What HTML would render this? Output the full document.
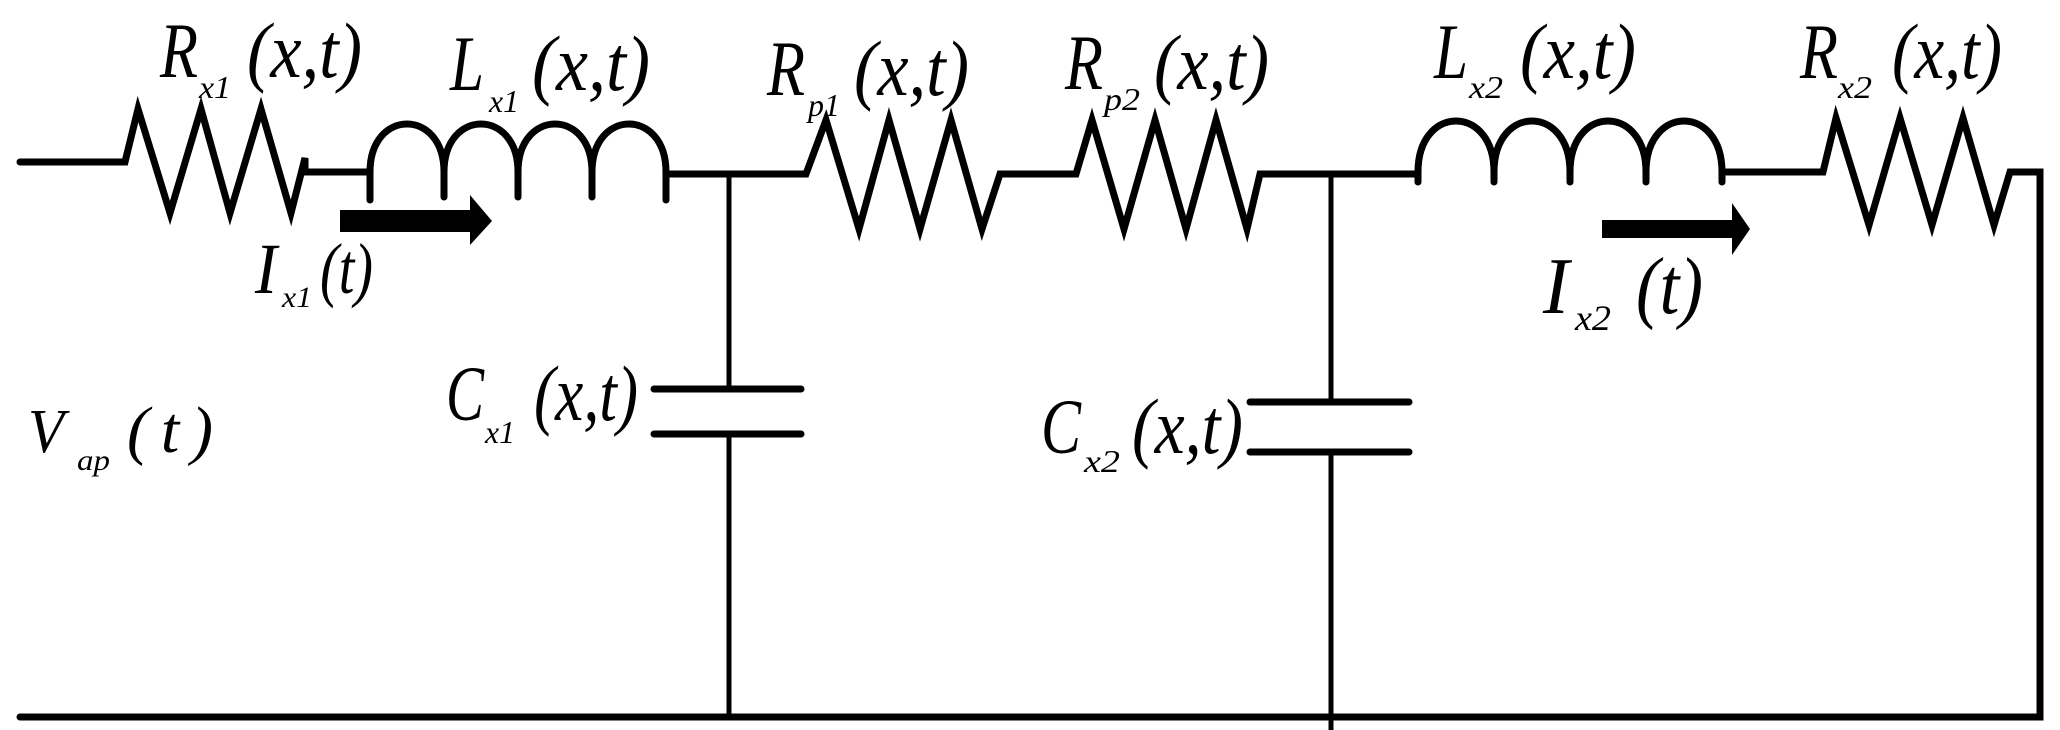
<!DOCTYPE html>
<html><head><meta charset="utf-8"><style>
html,body{margin:0;padding:0;background:#fff;}
svg{display:block;}
text{font-family:"Liberation Serif",serif;font-style:italic;fill:#000;}
</style></head><body>
<svg width="2060" height="730" viewBox="0 0 2060 730" xmlns="http://www.w3.org/2000/svg">
<g fill="none" stroke="#000" stroke-width="7" stroke-linejoin="miter" stroke-linecap="round">
<polyline points="20,162 125,162 138,109 170,213 201,109 230,213 261,109 291,213 305,158 305,172 370,172"/>
<path d="M370,200 L370,172 C370,108 444,108 444,172 L444,197 M444,172 C444,108 518,108 518,172 L518,197 M518,172 C518,108 592,108 592,172 L592,197 M592,172 C592,108 666,108 666,172 L666,200"/>
<polyline points="666,174 806,174 826,120 859,229 889,120 920,229 951,120 982,229 1000,174 1076,174 1092,120 1124,229 1155,120 1186,229 1216,120 1247,229 1260,174 1418,174"/>
<path d="M1418,182 L1418,172 C1418,104 1494,104 1494,172 L1494,182 M1494,172 C1494,104 1570,104 1570,172 L1570,182 M1570,172 C1570,104 1646,104 1646,172 L1646,182 M1646,172 C1646,104 1722,104 1722,172 L1722,182"/>
<polyline points="1722,172 1823,172 1836,118 1869,225 1900,118 1932,225 1963,118 1994,225 2010,172 2040,172 2040,717 20,717"/>
<line x1="654" y1="389" x2="801" y2="389"/>
<line x1="654" y1="434" x2="801" y2="434"/>
<line x1="1250" y1="402" x2="1409" y2="402"/>
<line x1="1250" y1="452" x2="1409" y2="452"/>
</g>
<g stroke="#000" stroke-width="5">
<line x1="729" y1="174" x2="729" y2="389"/>
<line x1="729" y1="434" x2="729" y2="719"/>
<line x1="1331" y1="174" x2="1331" y2="402"/>
<line x1="1331" y1="452" x2="1331" y2="730"/>
</g>
<rect x="340" y="210" width="132" height="22" fill="#000"/>
<polygon points="470,195 492,221 470,245" fill="#000"/>
<rect x="1602" y="220" width="132" height="18" fill="#000"/>
<polygon points="1732,203 1750,229 1732,255" fill="#000"/>
<g font-size="78">
<text x="160" y="77" textLength="38" lengthAdjust="spacingAndGlyphs">R</text><text x="199" y="98" font-size="32" textLength="32" lengthAdjust="spacingAndGlyphs">x1</text><text x="247" y="77" textLength="115" lengthAdjust="spacingAndGlyphs">(x,t)</text>
<text x="450" y="90" textLength="34" lengthAdjust="spacingAndGlyphs">L</text><text x="489" y="112" font-size="32" textLength="30" lengthAdjust="spacingAndGlyphs">x1</text><text x="532" y="90" textLength="118" lengthAdjust="spacingAndGlyphs">(x,t)</text>
<text x="767" y="95" textLength="38" lengthAdjust="spacingAndGlyphs">R</text><text x="808" y="116" font-size="32" textLength="32" lengthAdjust="spacingAndGlyphs">p1</text><text x="854" y="95" textLength="115" lengthAdjust="spacingAndGlyphs">(x,t)</text>
<text x="1065" y="89" textLength="38" lengthAdjust="spacingAndGlyphs">R</text><text x="1104" y="110" font-size="32" textLength="36" lengthAdjust="spacingAndGlyphs">p2</text><text x="1154" y="89" textLength="115" lengthAdjust="spacingAndGlyphs">(x,t)</text>
<text x="1434" y="78" textLength="34" lengthAdjust="spacingAndGlyphs">L</text><text x="1469" y="98" font-size="32" textLength="34" lengthAdjust="spacingAndGlyphs">x2</text><text x="1520" y="78" textLength="116" lengthAdjust="spacingAndGlyphs">(x,t)</text>
<text x="1800" y="78" textLength="38" lengthAdjust="spacingAndGlyphs">R</text><text x="1838" y="98" font-size="32" textLength="34" lengthAdjust="spacingAndGlyphs">x2</text><text x="1892" y="78" textLength="110" lengthAdjust="spacingAndGlyphs">(x,t)</text>
<text x="255" y="293" font-size="72" textLength="22" lengthAdjust="spacingAndGlyphs">I</text><text x="282" y="307" font-size="30" textLength="30" lengthAdjust="spacingAndGlyphs">x1</text><text x="320" y="293" font-size="72" textLength="53" lengthAdjust="spacingAndGlyphs">(t)</text>
<text x="1543" y="313" font-size="80" textLength="26" lengthAdjust="spacingAndGlyphs">I</text><text x="1575" y="330" font-size="36" textLength="36" lengthAdjust="spacingAndGlyphs">x2</text><text x="1636" y="313" font-size="80" textLength="67" lengthAdjust="spacingAndGlyphs">(t)</text>
<text x="446" y="420" textLength="38" lengthAdjust="spacingAndGlyphs">C</text><text x="485" y="443" font-size="32" textLength="30" lengthAdjust="spacingAndGlyphs">x1</text><text x="534" y="420" textLength="104" lengthAdjust="spacingAndGlyphs">(x,t)</text>
<text x="1041" y="453" textLength="40" lengthAdjust="spacingAndGlyphs">C</text><text x="1084" y="472" font-size="32" textLength="36" lengthAdjust="spacingAndGlyphs">x2</text><text x="1132" y="453" textLength="111" lengthAdjust="spacingAndGlyphs">(x,t)</text>
<text x="28" y="452" font-size="62" textLength="36" lengthAdjust="spacingAndGlyphs">V</text><text x="77" y="470" font-size="30" textLength="33" lengthAdjust="spacingAndGlyphs">ap</text><text x="127" y="452" font-size="66" textLength="86" lengthAdjust="spacing">( t )</text>
</g>
</svg>
</body></html>
